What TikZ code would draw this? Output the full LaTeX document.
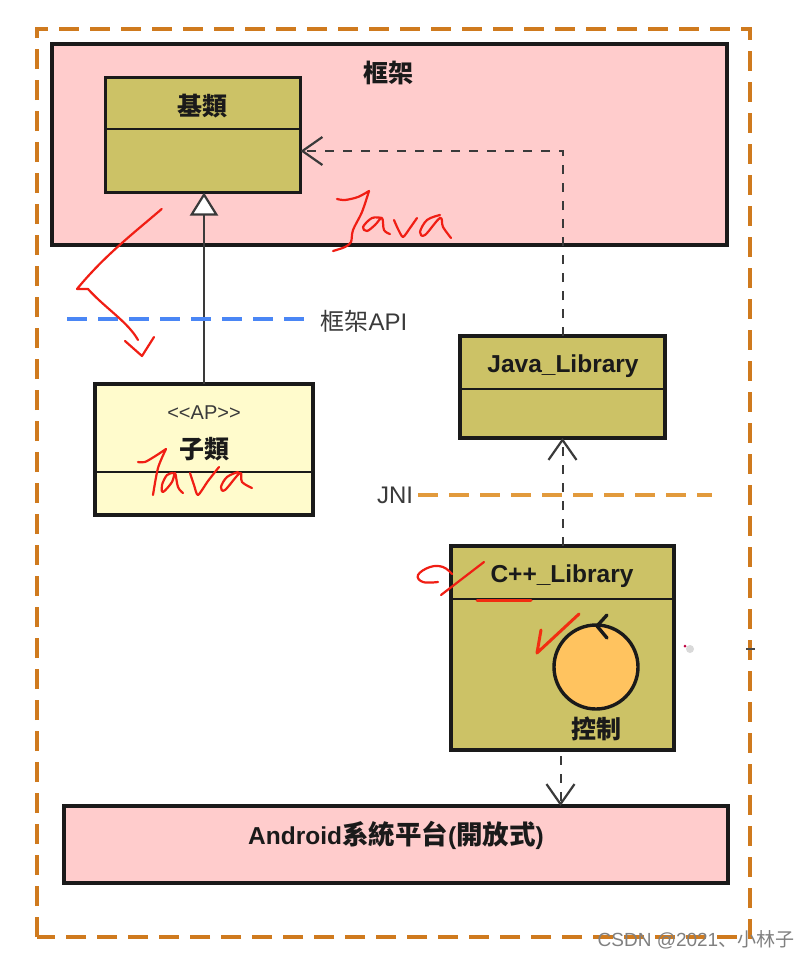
\documentclass[tikz,border=0pt]{standalone}
\usepackage{fontspec}
\setmainfont{Liberation Sans}
\newfontfamily\cjk{Noto Sans CJK TC}
\newfontfamily\cjksc{Noto Sans CJK SC}
\usetikzlibrary{arrows.meta}
\definecolor{pinkbox}{HTML}{FFCCCC}
\definecolor{olivebox}{HTML}{CCC266}
\definecolor{palebox}{HTML}{FFFBCC}
\definecolor{ctrlfill}{HTML}{FFC35F}
\definecolor{outerdash}{HTML}{CF7A1E}
\definecolor{jnidash}{HTML}{E29A3C}
\definecolor{apidash}{HTML}{4A86F5}
\definecolor{ink}{HTML}{1A1A1A}
\definecolor{grayink}{HTML}{3A3A3A}
\definecolor{pen}{HTML}{F01E14}
\tikzset{
  box/.style={draw=ink,line width=3.7pt,inner sep=0pt,outer sep=0pt,rectangle},
  pinkframe/.style={box,fill=pinkbox},
  oliveclass/.style={box,fill=olivebox},
  paleclass/.style={box,fill=palebox},
  divider/.style={draw=ink,line width=2.2pt},
  label/.style={inner sep=0pt,outer sep=0pt,text=ink,font=\fontsize{24.5}{26}\selectfont\bfseries},
  cjklabel/.style={label,font=\fontsize{25}{27}\cjk\bfseries},
  plainlabel/.style={inner sep=0pt,outer sep=0pt,text=grayink,font=\fontsize{24}{26}\selectfont},
  depends/.style={draw=grayink,line width=2pt,dash pattern=on 9pt off 9pt,
     -{Straight Barb[length=20pt,width=28pt,line width=2.2pt]}},
  inherits/.style={draw=grayink,line width=2.4pt,
     -{Triangle[open,fill=white,length=23pt,width=28pt,line width=2.2pt]}},
  level/.style={line width=4pt,dash pattern=on 20pt off 11pt},
  scribble/.style={draw=pen,line width=2.2pt,line cap=round,line join=round},
}
\begin{document}
\begin{tikzpicture}[x=1pt,y=-1pt]
\useasboundingbox[fill=white] (0,0) rectangle (810,959);

% outer dashed boundary
\draw[draw=outerdash,level] (37,937) -- (37,29) -- (750,29) -- (750,937) -- cycle;

% large frames
\node[pinkframe,minimum width=675pt,minimum height=201pt] (frame) at (389.5,144.5) {};
\node[pinkframe,minimum width=664pt,minimum height=77pt] (android) at (396,844.5) {};

% classes
\node[oliveclass,minimum width=195pt,minimum height=115pt] (base) at (203,135) {};
\node[paleclass,minimum width=218pt,minimum height=131pt] (sub) at (204,449.5) {};
\node[oliveclass,minimum width=205pt,minimum height=102pt] (javalib) at (562.5,387) {};
\node[oliveclass,minimum width=223pt,minimum height=204pt] (cpplib) at (562.5,648) {};

\coordinate (basediv) at (0,129);
\coordinate (subdiv) at (0,472);
\coordinate (javadiv) at (0,389);
\coordinate (cppdiv) at (0,599);
\draw[divider] (base.west |- basediv) -- (base.east |- basediv);
\draw[divider] (sub.west |- subdiv) -- (sub.east |- subdiv);
\draw[divider] (javalib.west |- javadiv) -- (javalib.east |- javadiv);
\draw[divider] (cpplib.west |- cppdiv) -- (cpplib.east |- cppdiv);

% level lines
\coordinate (apiL) at (67,319);
\coordinate (apiR) at (306,319);
\coordinate (jniL) at (418,495);
\coordinate (jniR) at (712,495);
\draw[draw=jnidash,level] (jniL) -- (jniR);

% connectors
\draw[depends] (javalib.north) |- ([yshift=-16pt]base.east);
\draw[depends] (cpplib.north) -- (javalib.south);
\draw[depends] ([xshift=-2pt,yshift=-6pt]cpplib.south) -- ([xshift=-2pt]cpplib.south |- android.north);
\draw[inherits] (sub.north) -- (sub.north |- base.south);
\draw[draw=apidash,level] (apiL) -- (apiR);

% control circle
\node[draw=ink,line width=3.4pt,fill=ctrlfill,circle,minimum size=84pt,inner sep=0pt,outer sep=0pt] (ctrl) at (596,667) {};
\coordinate (loopA) at (607,615);
\coordinate (loopB) at (597,626);
\coordinate (loopC) at (607,638);
\draw[draw=ink,line width=3.4pt,line cap=round,line join=miter] (loopA) -- (loopB) -- (loopC);

% labels
\node[cjklabel] (tframe) at (388,73) {框架};
\node[cjklabel] (tbase) at (202,106) {基類};
\node[plainlabel] (tapi) at (364,321) {{\cjk 框架}API};
\node[plainlabel,font=\fontsize{20}{22}\selectfont] (tap) at (204,413) {<{}<AP>{}>};
\node[cjklabel] (tsub) at (204,449) {子類};
\node[label] (tjava) at (563,366) {Java\_Library};
\node[plainlabel] (tjni) at (395,495) {JNI};
\node[label] (tcpp) at (562,576) {C++\_Library};
\node[cjklabel] (tctrl) at (596,729) {控制};
\node[label] (tandroid) at (396,835) {Android{\fontsize{26.5}{28}\cjk 系統平台}({\fontsize{26.5}{28}\cjk 開放式})};
\node[inner sep=0pt,text=black!50,font=\fontsize{19}{21}\selectfont] (mark) at (696,940) {CSDN @2021{\cjksc 、小林子}};

% red pen annotations
\draw[scribble] (161.7,209) .. controls (135,232) and (105,255) .. (77,289)
   -- (88,289) .. controls (105,308) and (128,322) .. (138,340);
\draw[scribble] (125,341) -- (142,356) -- (154,337);
% Java (upper)
\draw[scribble] plot[smooth,tension=.5] coordinates {(337,199) (345,200) (358,197) (369,191)};
\draw[scribble] plot[smooth,tension=.5] coordinates {(369,191) (362,212) (353,230) (351,242) (345,247) (333,251)};
\draw[scribble] plot[smooth,tension=.6] coordinates {(382,218) (372,218) (363,227) (367,231) (375,225) (382,218) (384,230) (390,234)};
\draw[scribble] plot[smooth,tension=.4] coordinates {(394,220) (398,229) (403,237) (410,228) (417,218)};
\draw[scribble] plot[smooth,tension=.6] coordinates {(440,215) (427,220) (420,232) (425,235) (440,218) (443,227) (451,238)};
% Java (lower)
\draw[scribble] plot[smooth,tension=.5] coordinates {(138,462) (145,462) (157,455) (166,449)};
\draw[scribble] plot[smooth,tension=.5] coordinates {(166,449) (158,468) (153,495)};
\draw[scribble] plot[smooth,tension=.6] coordinates {(173,473) (167,475) (162,485) (163,492) (172,482) (175,473) (178,487) (183,493)};
\draw[scribble] plot[smooth,tension=.4] coordinates {(190,473) (194,485) (198,495) (208,481) (219,467)};
\draw[scribble] plot[smooth,tension=.6] coordinates {(238,472) (227,477) (221,487) (225,490) (240,473) (242,482) (252,488)};
% C++ marks
\draw[scribble] plot[smooth,tension=.7] coordinates {(452,574) (443,567) (430,567) (418,575) (423,582) (438,582)};
\draw[scribble] (484,562) -- (441,595);
\draw[scribble,line width=3pt,draw=pen!85!orange] (477,600) -- (531,600);
\draw[scribble,line width=3pt,draw=pen!85!orange] (579,614) -- (537,653) -- (541,630);
% screen specks
\node[draw=none,fill=black!15,circle,minimum size=8pt,inner sep=0pt] (speckB) at (690,649) {};
\node[draw=none,fill=purple,circle,minimum size=3pt,inner sep=0pt] (speckA) at (685,646) {};
\coordinate (tickL) at (746,649);
\coordinate (tickR) at (755,649);
\draw[draw=ink!80,line width=1.6pt] (tickL) -- (tickR);
\end{tikzpicture}
\end{document}
